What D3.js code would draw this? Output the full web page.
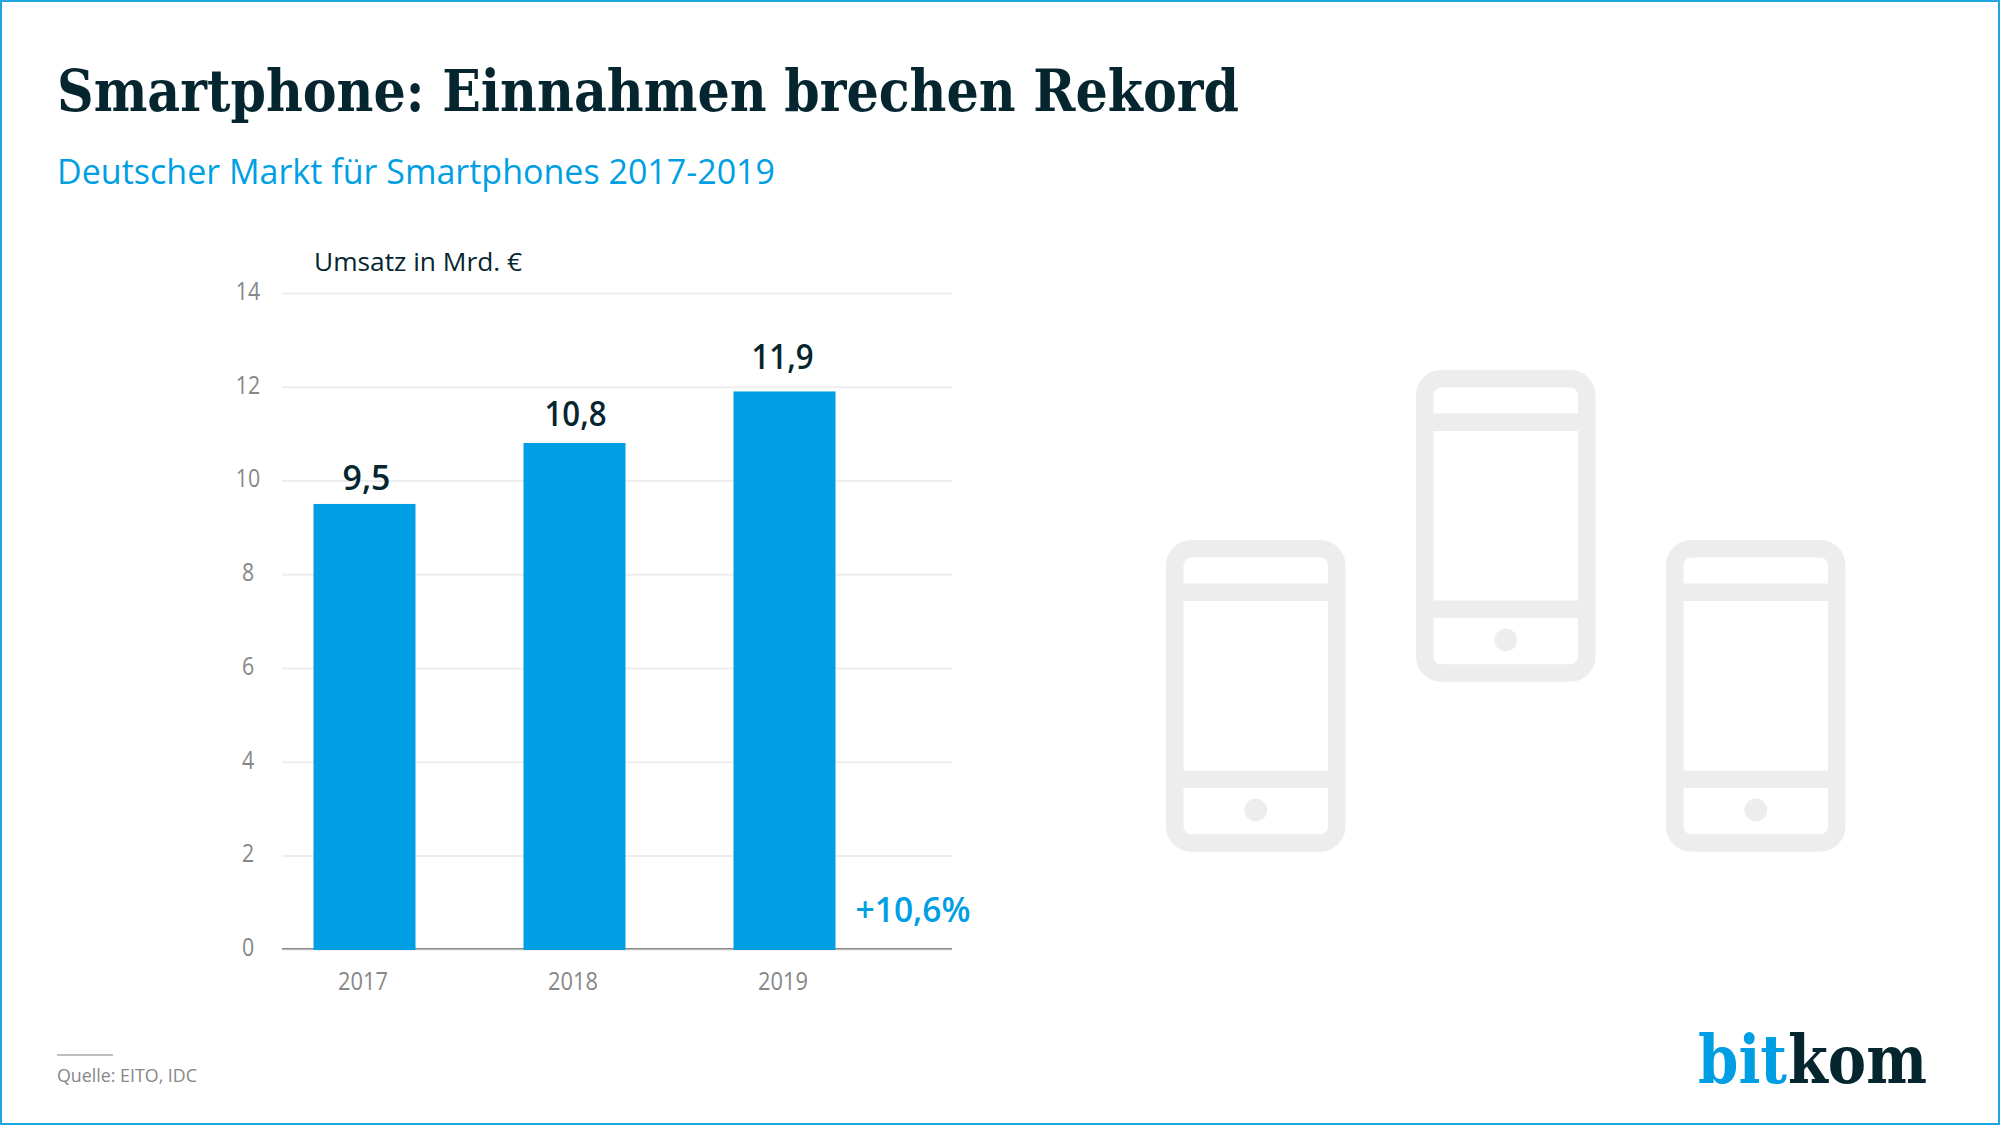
<!DOCTYPE html>
<html>
<head>
<meta charset="utf-8">
<title>Smartphone: Einnahmen brechen Rekord</title>
<script src="https://cdn.jsdelivr.net/npm/d3@7"></script>
<style>
  html, body { margin: 0; padding: 0; background: #fff; }
  svg { display: block; }
  text { font-family: "Open Sans", sans-serif; }
  .slab { font-family: "DejaVu Serif Condensed", "DejaVu Serif", serif; font-weight: 700; }
</style>
</head>
<body>
<script>
const years = ["2017", "2018", "2019"];
const revenue = [9.5, 10.8, 11.9];
const revenueLabels = ["9,5", "10,8", "11,9"];
const yTicks = [0, 2, 4, 6, 8, 10, 12, 14];
const yMax = 14;

const blue = "#009fe3", dark = "#05262f", grey = "#878787", light = "#ededed";

const width = 2000, height = 1125;
const svg = d3.select("body").append("svg")
    .attr("width", width)
    .attr("height", height);

svg.append("rect")
    .attr("width", width)
    .attr("height", height)
    .attr("fill", "#fff")
    .attr("stroke", "#1ea6e2")
    .attr("stroke-width", 4);

// squeezes a label to the measured width, the installed fonts are wider than the original
function label(x, y, str, size, fill, fit) {
  return svg.append("text")
      .attr("x", x)
      .attr("y", y)
      .attr("font-size", size)
      .attr("fill", fill)
      .attr("textLength", fit)
      .attr("lengthAdjust", "spacingAndGlyphs")
      .text(str);
}

label(57, 110.7, "Smartphone: Einnahmen brechen Rekord", 57, dark, 1182).attr("class", "slab");
label(57, 184, "Deutscher Markt für Smartphones 2017-2019", 34, blue, 718);
label(314, 270.6, "Umsatz in Mrd. €", 25.5, dark, 208);

const x = d3.scaleBand()
    .domain(years)
    .range([313.5, 835.5])
    .paddingInner(108 / 210);

const y = d3.scaleLinear()
    .domain([0, yMax])
    .range([949.3, 293]);

const gridLeft = 282, gridRight = 952;

svg.append("g")
    .attr("transform", `translate(${gridLeft},0)`)
    .call(d3.axisLeft(y).tickValues(yTicks).tickSize(gridLeft - gridRight).tickFormat(d3.format("d")))
    .call(g => g.select(".domain").remove())
    .call(g => g.selectAll(".tick line").attr("stroke", light).attr("stroke-width", 2))
    .call(g => g.selectAll(".tick text")
        .attr("x", -34)
        .attr("dy", "0.25em")
        .attr("text-anchor", "middle")
        .attr("font-family", null)
        .attr("font-size", 25)
        .attr("fill", grey)
        .attr("textLength", d => String(d).length * 12.2)
        .attr("lengthAdjust", "spacingAndGlyphs"));

svg.append("line")
    .attr("x1", gridLeft)
    .attr("x2", gridRight)
    .attr("y1", y(0) - 0.5)
    .attr("y2", y(0) - 0.5)
    .attr("stroke", grey)
    .attr("stroke-width", 1.5);

svg.append("g")
    .attr("transform", `translate(0,${y(0)})`)
    .call(d3.axisBottom(x).tickSize(0))
    .call(g => g.select(".domain").remove())
    .call(g => g.selectAll(".tick text")
        .attr("x", -1.5)
        .attr("y", 40.7)
        .attr("dy", 0)
        .attr("font-family", null)
        .attr("font-size", 25)
        .attr("fill", grey)
        .attr("textLength", 50)
        .attr("lengthAdjust", "spacingAndGlyphs"));

svg.append("g")
    .attr("fill", blue)
  .selectAll("rect")
  .data(revenue)
  .join("rect")
    .attr("x", (d, i) => x(years[i]))
    .attr("y", d => y(d))
    .attr("width", x.bandwidth())
    .attr("height", d => y(0) - y(d) + 0.7);

// the original labels do not sit at a constant distance from the bars
const labelLift = [14, 17.5, 22.4];
const labelShift = [2, 1, -2];

svg.append("g")
  .selectAll("text")
  .data(revenue)
  .join("text")
    .attr("x", (d, i) => x(years[i]) + x.bandwidth() / 2 + labelShift[i])
    .attr("y", (d, i) => y(d) - labelLift[i])
    .attr("text-anchor", "middle")
    .attr("font-size", 35)
    .attr("font-weight", 600)
    .attr("fill", dark)
    .attr("textLength", (d, i) => revenueLabels[i].length === 3 ? 48 : 62)
    .attr("lengthAdjust", "spacingAndGlyphs")
    .text((d, i) => revenueLabels[i]);

label(855.5, 921.6, "+10,6%", 34, blue, 115).attr("font-weight", 600);

// phone icons behind nothing, light grey decoration on the right
const phones = [[1166, 540], [1416, 370], [1666, 540]];
const phoneW = 179.5, phoneH = 311.7, phoneStroke = 17.5;

const phone = svg.append("g")
  .selectAll("g")
  .data(phones)
  .join("g")
    .attr("transform", d => `translate(${d[0]},${d[1]})`)
    .attr("fill", "none")
    .attr("stroke", light)
    .attr("stroke-width", phoneStroke);

phone.append("rect")
    .attr("x", phoneStroke / 2)
    .attr("y", phoneStroke / 2)
    .attr("width", phoneW - phoneStroke)
    .attr("height", phoneH - phoneStroke)
    .attr("rx", 16.5);

phone.selectAll("line")
  .data([52.2, 239.2])
  .join("line")
    .attr("x1", phoneStroke / 2)
    .attr("x2", phoneW - phoneStroke / 2)
    .attr("y1", d => d)
    .attr("y2", d => d);

phone.append("circle")
    .attr("cx", phoneW / 2)
    .attr("cy", 270)
    .attr("r", 11.4)
    .attr("fill", light)
    .attr("stroke", "none");

svg.append("line")
    .attr("x1", 57)
    .attr("x2", 113)
    .attr("y1", 1055)
    .attr("y2", 1055)
    .attr("stroke", "#a8a8a8")
    .attr("stroke-width", 1.5);

label(57, 1081.6, "Quelle: EITO, IDC", 17.5, grey, 140);

label(1698, 1082.7, "bit", 68, blue, 89).attr("class", "slab");
label(1788, 1082.7, "kom", 68, dark, 139).attr("class", "slab");
</script>
</body>
</html>
